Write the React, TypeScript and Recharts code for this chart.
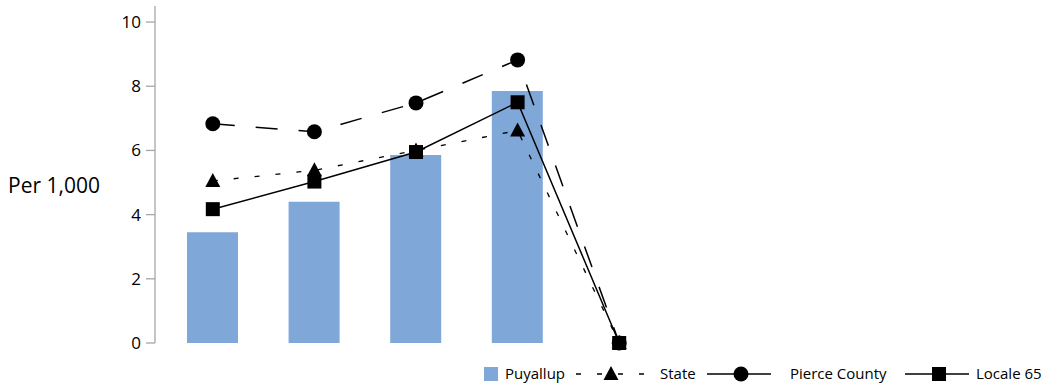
import React from 'react';
import { ComposedChart, Bar, Line, XAxis, YAxis, Legend } from 'recharts';

const categories = ['A', 'B', 'C', 'D', 'E'];
const puyallup = [3.45, 4.4, 5.86, 7.85, null];
const state = [5.05, 5.38, 6.0, 6.62, 0];
const pierceCounty = [6.83, 6.58, 7.48, 8.82, 0];
const locale65 = [4.17, 5.03, 5.95, 7.5, 0];
const yTicks = [0, 2, 4, 6, 8, 10];

const data = categories.map((c, i) => ({
  cat: c,
  puyallup: puyallup[i],
  state: state[i],
  pierce: pierceCounty[i],
  locale: locale65[i],
}));

const FONT = '"Open Sans", "Noto Sans", sans-serif';
const BAR_COLOR = '#7fa7d8';

const Triangle = (cx: number, cy: number, key?: any) => (
  <polygon key={key} points={`${cx},${cy - 8} ${cx - 7.5},${cy + 6} ${cx + 7.5},${cy + 6}`} fill="#000" />
);
const Circle = (cx: number, cy: number, key?: any) => <circle key={key} cx={cx} cy={cy} r={7.5} fill="#000" />;
const Square = (cx: number, cy: number, key?: any) => (
  <rect key={key} x={cx - 7} y={cy - 7} width={14} height={14} fill="#000" />
);

const dotFn = (shape: (cx: number, cy: number, key?: any) => any) => (props: any) => {
  const { cx, cy, index } = props;
  if (cx == null || cy == null || isNaN(cx) || isNaN(cy)) return <g key={`e${index}`} />;
  return shape(cx, cy, `d${index}`);
};

const LegendContent = () => {
  const cy = 16;
  const textStyle = { fontFamily: FONT, fontSize: 15, fill: '#000' };
  return (
    <svg width={1056} height={30} style={{ display: 'block' }}>
      <rect x={484} y={cy - 7} width={14} height={14} fill={BAR_COLOR} />
      <text x={505} y={cy} dy="0.35em" style={textStyle}>Puyallup</text>

      <line x1={576} y1={cy} x2={646} y2={cy} stroke="#000" strokeWidth={1.3} strokeDasharray="5 16" />
      {Triangle(611, cy)}
      <text x={660} y={cy} dy="0.35em" style={textStyle}>State</text>

      <line x1={707} y1={cy} x2={771} y2={cy} stroke="#000" strokeWidth={1.5} />
      {Circle(741, cy)}
      <text x={790} y={cy} dy="0.35em" style={textStyle}>Pierce County</text>

      <line x1={905} y1={cy} x2={969} y2={cy} stroke="#000" strokeWidth={1.5} />
      {Square(939, cy)}
      <text x={976} y={cy} dy="0.35em" style={textStyle}>Locale 65</text>
    </svg>
  );
};

export default function App() {
  return (
    <div style={{ position: 'absolute', left: 0, top: 0, width: 1056, height: 388, background: '#fff' }}>
      <ComposedChart
        width={1056}
        height={388}
        data={data}
        margin={{ top: 6, right: 386, bottom: 15, left: 0 }}
      >
        <XAxis dataKey="cat" hide padding={{ left: 7, right: 0 }} />
        <YAxis
          width={155}
          domain={[0, 10.5]}
          ticks={yTicks}
          interval={0}
          tickSize={9}
          tickMargin={5}
          axisLine={{ stroke: '#a6a6a6', strokeWidth: 1.3 }}
          tickLine={{ stroke: '#a6a6a6', strokeWidth: 1.3 }}
          tick={{ fill: '#000', fontSize: 17, fontFamily: FONT }}
          label={{
            value: 'Per 1,000',
            position: 'insideLeft',
            offset: 8,
            dy: 11,
            style: { fontSize: 21, fill: '#000', fontFamily: FONT, textAnchor: 'start' },
          }}
        />
        <Bar dataKey="puyallup" name="Puyallup" fill={BAR_COLOR} barSize={51} isAnimationActive={false} />
        <Line
          type="linear"
          dataKey="state"
          name="State"
          stroke="#000"
          strokeWidth={1.3}
          strokeDasharray="5 16"
          dot={dotFn(Triangle)}
          activeDot={false}
          isAnimationActive={false}
        />
        <Line
          type="linear"
          dataKey="pierce"
          name="Pierce County"
          stroke="#000"
          strokeWidth={1.5}
          strokeDasharray="22 21"
          dot={dotFn(Circle)}
          activeDot={false}
          isAnimationActive={false}
        />
        <Line
          type="linear"
          dataKey="locale"
          name="Locale 65"
          stroke="#000"
          strokeWidth={1.5}
          dot={dotFn(Square)}
          activeDot={false}
          isAnimationActive={false}
        />
        <Legend
          content={<LegendContent />}
          wrapperStyle={{ position: 'absolute', left: 0, top: 358, width: 1056, height: 30 }}
        />
      </ComposedChart>
    </div>
  );
}
